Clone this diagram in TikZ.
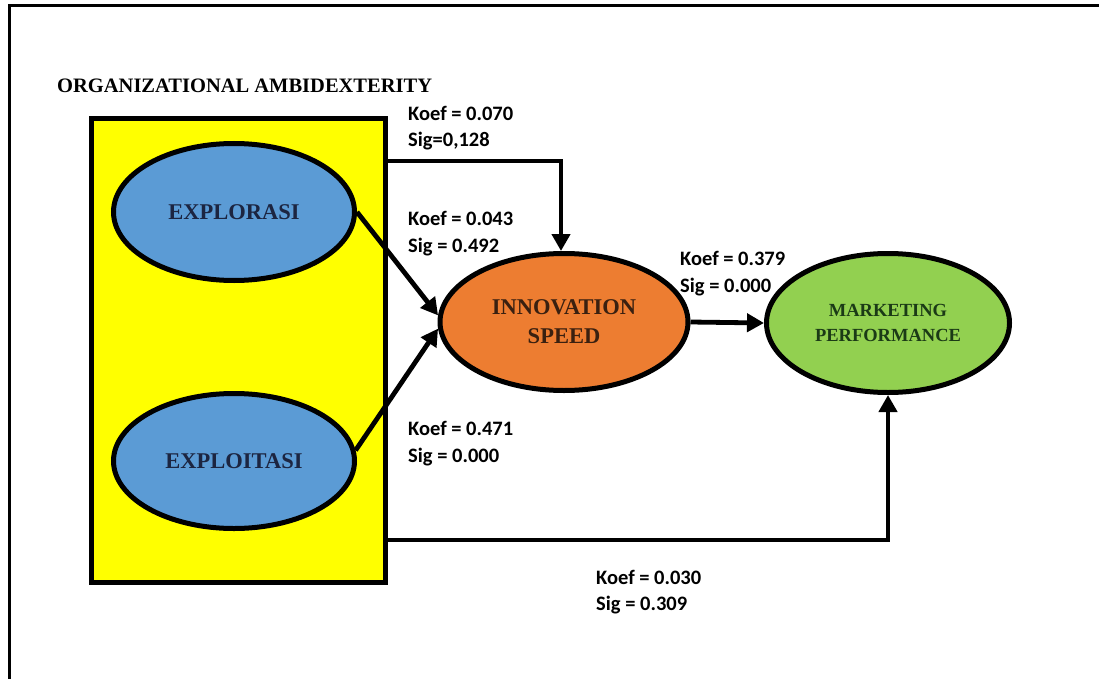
\documentclass[tikz,border=0pt]{standalone}
\usepackage{fontspec}
\setmainfont{Liberation Serif}
\newfontfamily\lblfont{Carlito}
\usetikzlibrary{shapes.geometric,arrows.meta}
\definecolor{boxyellow}{HTML}{FFFF00}
\definecolor{latblue}{HTML}{5B9BD5}
\definecolor{latorange}{HTML}{ED7D31}
\definecolor{latgreen}{HTML}{92D050}
\definecolor{txtnavy}{HTML}{1C2541}
\definecolor{txtbrown}{HTML}{3A2010}
\definecolor{txtgreen}{HTML}{1B3A16}
\begin{document}
\begin{tikzpicture}[x=1pt,y=-1pt,
  conn/.style={line width=4.8pt,-{Triangle[length=17pt,width=18pt]}},
  latent/.style={ellipse,draw,line width=5pt,inner sep=0pt,align=center},
  lbl/.style={anchor=base west,inner sep=0pt,font=\lblfont\bfseries\fontsize{20.5}{26}\selectfont},
]
\useasboundingbox (0,0) rectangle (1099,679);
\fill[white] (0,0) rectangle (1099,679);
% frame
\draw[line width=3.5pt] (9.5,679) |- (1099,5.5);

% title
\node[anchor=base west,inner sep=0pt,font=\bfseries\fontsize{20.5}{24}\selectfont] (title) at (57,93) {ORGANIZATIONAL AMBIDEXTERITY};

% yellow box
\node[draw,fill=boxyellow,line width=5pt,outer sep=0pt,inner sep=0pt,
      minimum width=294pt,minimum height=463pt] (orgbox) at (238,350.5) {};

% latent variables
\node[latent,fill=latblue,minimum width=241pt,minimum height=137pt,
      font=\bfseries\fontsize{22.5}{28}\selectfont,text=txtnavy] (explor) at (234,212) {EXPLORASI};
\node[latent,fill=latblue,minimum width=241pt,minimum height=135pt,
      font=\bfseries\fontsize{22.5}{28}\selectfont,text=txtnavy] (exploit) at (234,461) {EXPLOITASI};
\node[latent,fill=latorange,minimum width=248pt,minimum height=137pt,
      font=\bfseries\fontsize{22.5}{29}\selectfont,text=txtbrown] (innov) at (564,322) {INNOVATION\\SPEED};
\node[latent,fill=latgreen,minimum width=243pt,minimum height=139pt,
      font=\bfseries\fontsize{18.5}{25}\selectfont,text=txtgreen] (market) at (888,323) {MARKETING\\PERFORMANCE};

% connectors
\draw[conn] ([yshift=-42pt]orgbox.north east) -| ([xshift=-3pt]innov.north);
\draw[conn] (explor.east) -- (innov.177);
\draw[conn] (exploit.5) -- (innov.183);
\draw[conn] (innov.east) -- (market.west);
\draw[conn] ([yshift=42pt]orgbox.south east) -| (market.south);

% labels
\node[lbl] (kA) at (408,121) {Koef = 0.070};
\node[lbl] (sA) at (408,147) {Sig=0,128};
\node[lbl] (kB) at (408,225) {Koef = 0.043};
\node[lbl] (sB) at (408,252) {Sig = 0.492};
\node[lbl] (kC) at (680,265) {Koef = 0.379};
\node[lbl] (sC) at (680,292) {Sig = 0.000};
\node[lbl] (kD) at (408,435) {Koef = 0.471};
\node[lbl] (sD) at (408,462) {Sig = 0.000};
\node[lbl] (kE) at (596,584) {Koef = 0.030};
\node[lbl] (sE) at (596,610) {Sig = 0.309};
\end{tikzpicture}
\end{document}
